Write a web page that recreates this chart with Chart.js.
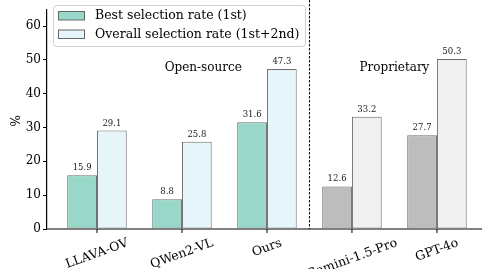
<!DOCTYPE html>
<html>
<head>
<meta charset="utf-8">
<script src="https://cdn.jsdelivr.net/npm/chart.js@4.4.0/dist/chart.umd.min.js"></script>
<style>
  html, body { margin: 0; padding: 0; background: #fff; }
  #wrap { width: 482px; height: 269px; }
</style>
</head>
<body>
<div id="wrap"><canvas id="chart"></canvas></div>
<script>
const models = ["LLAVA-OV", "QWen2-VL", "Ours", "Gemini-1.5-Pro", "GPT-4o"];
const bestRate = [15.9, 8.8, 31.6, 12.6, 27.7];
const overallRate = [29.1, 25.8, 47.3, 33.2, 50.3];
const yTicks = [0, 10, 20, 30, 40, 50, 60];
const openCount = 3;

const FONT = "'DejaVu Serif', serif";

function colorsFor(open, closed) {
  return models.map((m, i) => (i < openCount ? open : closed));
}

const overlay = {
  id: "overlay",
  afterDraw(chart) {
    const ctx = chart.ctx;
    const x = chart.scales.x;
    const y = chart.scales.y;
    const area = chart.chartArea;
    ctx.save();

    // bottom axis line
    ctx.strokeStyle = "#808080";
    ctx.lineWidth = 2;
    ctx.beginPath();
    ctx.moveTo(area.left, area.bottom);
    ctx.lineTo(area.right, area.bottom);
    ctx.stroke();

    // x ticks and rotated labels
    ctx.fillStyle = "#000";
    ctx.strokeStyle = "#000";
    ctx.lineWidth = 1;
    ctx.font = "12.5px " + FONT;
    const ang = 20 * Math.PI / 180;
    models.forEach((name, i) => {
      const px = x.getPixelForValue(i);
      ctx.beginPath();
      ctx.moveTo(px, area.bottom);
      ctx.lineTo(px, area.bottom + 4);
      ctx.stroke();
      const w = ctx.measureText(name).width;
      const h = 12;
      const bh = w * Math.sin(ang) + h * Math.cos(ang);
      const cy = area.bottom + 8 + bh / 2;
      ctx.save();
      ctx.translate(px, cy);
      ctx.rotate(-ang);
      ctx.textAlign = "center";
      ctx.textBaseline = "middle";
      ctx.fillText(name, 0, 0);
      ctx.restore();
    });

    // value labels
    ctx.font = "8.5px " + FONT;
    ctx.fillStyle = "#222";
    ctx.textAlign = "center";
    ctx.textBaseline = "bottom";
    chart.data.datasets.forEach((ds, di) => {
      chart.getDatasetMeta(di).data.forEach((bar, i) => {
        ctx.fillText(ds.data[i].y.toFixed(1), bar.x, bar.y - 3);
      });
    });

    // dashed separator
    const sx = x.getPixelForValue(openCount - 0.5);
    ctx.strokeStyle = "#000";
    ctx.lineWidth = 1;
    ctx.setLineDash([2.5, 1.5]);
    ctx.beginPath();
    ctx.moveTo(sx, 0);
    ctx.lineTo(sx, area.bottom);
    ctx.stroke();
    ctx.setLineDash([]);

    // group captions
    ctx.font = "12px " + FONT;
    ctx.fillStyle = "#000";
    ctx.textBaseline = "middle";
    ctx.fillText("Open-source", x.getPixelForValue(1.25), y.getPixelForValue(47.7));
    ctx.fillText("Proprietary", x.getPixelForValue(3.5), y.getPixelForValue(47.7));

    // y title
    ctx.save();
    ctx.translate(17, y.getPixelForValue(32));
    ctx.rotate(-Math.PI / 2);
    ctx.fillText("%", 0, 0);
    ctx.restore();

    // legend
    const lx = 53, ly = 5, lw = 252, lh = 41;
    ctx.fillStyle = "rgba(255,255,255,0.8)";
    ctx.strokeStyle = "#d0d0d0";
    ctx.beginPath();
    ctx.roundRect(lx + 0.5, ly + 0.5, lw, lh, 3);
    ctx.fill();
    ctx.stroke();
    const items = [
      ["Best selection rate (1st)", "#99d8c9"],
      ["Overall selection rate (1st+2nd)", "#e5f5f9"],
    ];
    items.forEach(([label, col], k) => {
      const ry = ly + 6 + k * 18.5;
      ctx.fillStyle = col;
      ctx.fillRect(58.5, ry + 0.5, 26, 8.5);
      ctx.strokeStyle = "#666";
      ctx.strokeRect(58.5, ry + 0.5, 26, 8.5);
      ctx.fillStyle = "#000";
      ctx.textAlign = "left";
      ctx.textBaseline = "middle";
      ctx.font = "12.5px " + FONT;
      ctx.fillText(label, 95, ry + 5);
    });

    ctx.restore();
  },
};

new Chart(document.getElementById("chart"), {
  type: "bar",
  data: {
    datasets: [
      {
        label: "Best selection rate (1st)",
        data: bestRate.map((v, i) => ({ x: i, y: v })),
        backgroundColor: colorsFor("#99d8c9", "#bdbdbd"),
        borderColor: "#6e6e6e",
        borderWidth: 1,
        borderSkipped: false,
      },
      {
        label: "Overall selection rate (1st+2nd)",
        data: overallRate.map((v, i) => ({ x: i, y: v })),
        backgroundColor: colorsFor("#e5f5f9", "#f0f0f0"),
        borderColor: "#6e6e6e",
        borderWidth: 1,
        borderSkipped: false,
      },
    ],
  },
  options: {
    responsive: true,
    maintainAspectRatio: false,
    animation: false,
    layout: { padding: { top: 4, bottom: 40, left: 0, right: 0 } },
    categoryPercentage: 0.7,
    barPercentage: 1.0,
    plugins: { legend: { display: false }, tooltip: { enabled: false } },
    scales: {
      x: {
        type: "linear",
        display: false,
        min: -0.588,
        max: 4.53,
        offset: false,
        afterBuildTicks(scale) { scale.ticks = models.map((m, i) => ({ value: i })); },
      },
      y: {
        min: 0,
        max: 65,
        afterFit(scale) { scale.width = 47; },
        afterBuildTicks(scale) { scale.ticks = yTicks.map(v => ({ value: v })); },
        border: { color: "#000", width: 1.2 },
        grid: { drawOnChartArea: false, drawTicks: true, tickLength: 4, color: "#000" },
        ticks: { color: "#000", padding: 2, font: { family: FONT, size: 12 } },
      },
    },
  },
  plugins: [overlay],
});
</script>
</body>
</html>
